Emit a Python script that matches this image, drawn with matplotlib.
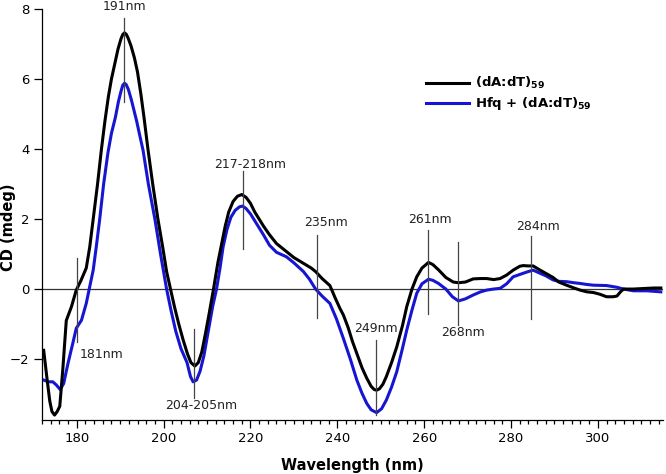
import matplotlib.pyplot as plt
from matplotlib.ticker import MultipleLocator

# (dA:dT)59 alone
wl_dna = [172.4, 173.2, 173.8, 174.3, 174.9, 175.5, 176.1, 176.8, 177.6, 178.8,
          179.9, 181.0, 182.2, 183.0, 183.8, 184.8, 185.7, 186.5, 187.3, 188.0,
          188.8, 189.5, 190.2, 190.6, 191.0, 191.4, 191.8, 192.5, 193.3, 194.0,
          194.8, 195.5, 196.4, 197.5, 198.7, 199.8, 200.7, 201.6, 202.5, 203.5,
          204.5, 205.5, 206.3, 207.2, 208.0, 208.8, 209.6, 210.5, 211.5, 212.5,
          213.3, 214.2, 215.0, 216.0, 217.0, 218.0, 219.0, 220.0, 221.0, 222.0,
          223.0, 224.4, 226.0, 228.3, 230.0, 232.0, 234.0, 235.0, 236.5, 238.3,
          239.5, 240.6, 241.4, 242.5, 243.5, 244.5, 245.7, 246.8, 247.8, 248.5,
          249.05, 249.7, 250.5, 251.3, 252.5, 253.7, 255.0, 256.0, 257.2, 258.3,
          259.5, 261.0, 262.0, 263.3, 265.0, 266.7, 267.9, 269.5, 271.3, 273.0,
          274.4, 276.0, 277.5, 279.0, 280.5, 282.0, 282.8, 284.0, 285.1, 286.7,
          288.0, 289.7, 291.0, 292.8, 294.5, 295.9, 297.5, 299.0, 300.5, 302.0,
          303.5, 304.4, 305.2, 305.9, 307.0, 308.2, 310.0, 311.3, 313.0, 314.5]
cd_dna = [-1.75, -2.6, -3.2, -3.5, -3.6, -3.5, -3.35, -2.3, -0.9, -0.5,
          -0.03, 0.25, 0.6, 1.2, 2.0, 3.0, 4.0, 4.8, 5.5, 6.0,
          6.45, 6.85, 7.15, 7.27, 7.32, 7.28, 7.18, 6.95, 6.6, 6.2,
          5.55, 4.9, 4.0, 3.0, 2.0, 1.2, 0.5, 0.0, -0.5, -1.0,
          -1.45, -1.85, -2.1, -2.2, -2.1, -1.8, -1.3, -0.7, 0.0, 0.75,
          1.25, 1.8, 2.2, 2.5, 2.65, 2.7, 2.62, 2.45, 2.2, 2.0,
          1.8, 1.55, 1.3, 1.07, 0.9, 0.75, 0.6, 0.5, 0.3, 0.1,
          -0.25, -0.55, -0.74, -1.1, -1.5, -1.84, -2.25, -2.55, -2.78, -2.87,
          -2.89, -2.85, -2.72, -2.5, -2.1, -1.65, -1.05, -0.5, 0.0, 0.35,
          0.6, 0.76, 0.7, 0.55, 0.33, 0.2, 0.18, 0.2, 0.29, 0.3,
          0.3, 0.27, 0.3, 0.4, 0.54, 0.65, 0.67, 0.66, 0.66, 0.54,
          0.45, 0.33, 0.2, 0.11, 0.03, -0.03, -0.08, -0.1, -0.15, -0.22,
          -0.22, -0.2, -0.08, 0.0, 0.0, 0.0, 0.01, 0.02, 0.03, 0.03]

# Hfq + (dA:dT)59
wl_hfq = [172.4, 173.5, 174.5, 175.3, 176.2, 177.0, 178.0, 179.1, 179.9, 181.1,
          182.2, 183.0, 183.8, 184.5, 185.3, 186.2, 187.2, 188.0, 188.9, 189.6,
          190.2, 190.6, 191.0, 191.4, 191.9, 192.6, 193.3, 193.8, 194.5, 195.3,
          196.5, 198.0, 199.3, 200.7, 201.7, 202.8, 204.0, 205.4, 206.2, 206.8,
          207.6, 208.4, 209.3, 210.3, 211.3, 212.2, 213.0, 213.7, 214.6, 215.5,
          216.5, 217.5, 218.2, 219.0, 220.0, 221.0, 222.0, 223.0, 224.4, 226.0,
          228.3, 230.0, 232.2, 233.6, 235.0, 236.5, 238.3, 239.8, 241.4, 243.0,
          244.5, 245.7, 246.8, 247.8, 249.05, 250.2, 251.3, 252.5, 253.7, 255.0,
          256.0, 257.2, 258.3, 259.5, 261.0, 262.0, 263.3, 265.0, 266.5, 267.9,
          269.5, 271.3, 273.0, 274.4, 276.0, 277.5, 279.0, 280.5, 282.8, 284.0,
          285.1, 286.7, 288.0, 289.7, 291.0, 292.8, 294.5, 295.9, 297.5, 299.0,
          302.0, 304.4, 305.9, 308.2, 311.3, 314.5]
cd_hfq = [-2.6, -2.65, -2.65, -2.74, -2.87, -2.7, -2.12, -1.55, -1.12, -0.89,
          -0.41, 0.07, 0.54, 1.2, 2.0, 3.0, 3.9, 4.45, 4.9, 5.35,
          5.65, 5.82, 5.88, 5.84, 5.7, 5.4, 5.05, 4.8, 4.4, 3.95,
          3.0, 2.0, 1.0, 0.0, -0.6, -1.2, -1.7, -2.1, -2.5, -2.65,
          -2.6, -2.35, -1.9, -1.2, -0.5, 0.0, 0.6, 1.2, 1.7, 2.05,
          2.25, 2.35, 2.37, 2.3, 2.15, 1.95, 1.75, 1.55, 1.25, 1.05,
          0.92, 0.75, 0.5, 0.28, 0.0, -0.2, -0.41, -0.85, -1.41, -2.0,
          -2.6, -2.98, -3.27, -3.45, -3.53, -3.42, -3.17, -2.8, -2.36, -1.7,
          -1.17, -0.6, -0.12, 0.15, 0.28, 0.25, 0.16, 0.0, -0.22, -0.34,
          -0.28, -0.17, -0.08, -0.03, 0.0, 0.02, 0.15, 0.35, 0.45, 0.5,
          0.54, 0.45, 0.38, 0.26, 0.22, 0.21, 0.18, 0.16, 0.13, 0.11,
          0.1, 0.05, 0.0, -0.05, -0.05, -0.08]

# peak markers: label, x of line, line bottom/top, label x, label y, alignment
mark_text = ['191nm', '181nm', '204-205nm', '217-218nm', '235nm', '249nm',
             '261nm', '268nm', '284nm']
mark_x = [191.0, 180.15, 206.9, 218.2, 235.3, 249.0, 261.0, 267.9, 284.6]
mark_lo = [5.35, -1.5, -3.1, 1.13, -0.84, -3.6, -0.7, -1.03, -0.87]
mark_hi = [7.74, 0.88, -1.14, 3.38, 1.54, -1.46, 1.7, 1.33, 1.52]
text_x = [191.0, 180.6, 208.7, 219.9, 237.4, 249.0, 261.3, 268.9, 286.3]
text_y = [8.06, -1.86, -3.33, 3.57, 1.9, -1.14, 2.0, -1.24, 1.78]
text_ha = ['center', 'left', 'center', 'center', 'center', 'center',
           'center', 'center', 'center']

fig = plt.figure(figsize=(6.66, 4.74), dpi=100)
ax = fig.add_axes([0.063, 0.114, 0.9325, 0.867])

ax.axhline(0, color='#333333', linewidth=0.9, zorder=1)

for x, lo, hi in zip(mark_x, mark_lo, mark_hi):
    ax.plot([x, x], [lo, hi], color='#444444', linewidth=0.9, zorder=4)
for t, x, y, ha in zip(mark_text, text_x, text_y, text_ha):
    ax.text(x, y, t, ha=ha, va='center', fontsize=9, color='#222222', zorder=5)

ax.plot(wl_hfq, cd_hfq, color='#1616d2', linewidth=2.2, zorder=2,
        solid_joinstyle='round', label='Hfq + (dA:dT)$_{\\mathbf{59}}$')
ax.plot(wl_dna, cd_dna, color='black', linewidth=2.2, zorder=3,
        solid_joinstyle='round', label='(dA:dT)$_{\\mathbf{59}}$')

ax.set_xlim(172, 315)
ax.set_ylim(-3.74, 8.0)
ax.xaxis.set_major_locator(MultipleLocator(20))
ax.xaxis.set_minor_locator(MultipleLocator(2))
ax.yaxis.set_major_locator(MultipleLocator(2))
ax.tick_params(axis='both', which='major', length=5.5, width=0.9,
               labelsize=9.5, direction='out')
ax.tick_params(axis='x', which='minor', length=3, width=0.9, direction='out')

for side in ['top', 'right']:
    ax.spines[side].set_visible(False)
for side in ['left', 'bottom']:
    ax.spines[side].set_linewidth(0.9)

ax.set_xlabel('Wavelength (nm)', fontsize=10.5, fontweight='bold', labelpad=9)
ax.set_ylabel('CD (mdeg)', fontsize=10.5, fontweight='bold', va='center')
ax.yaxis.set_label_coords(-0.054, 0.47)

handles, labels = ax.get_legend_handles_labels()
ax.legend(handles[::-1], labels[::-1], loc='upper left',
          bbox_to_anchor=(0.6, 0.868), frameon=False, handlelength=3.2,
          handletextpad=0.5, labelspacing=0.3,
          prop={'weight': 'bold', 'size': 9.5})

fig.savefig('out.png', dpi=100)
